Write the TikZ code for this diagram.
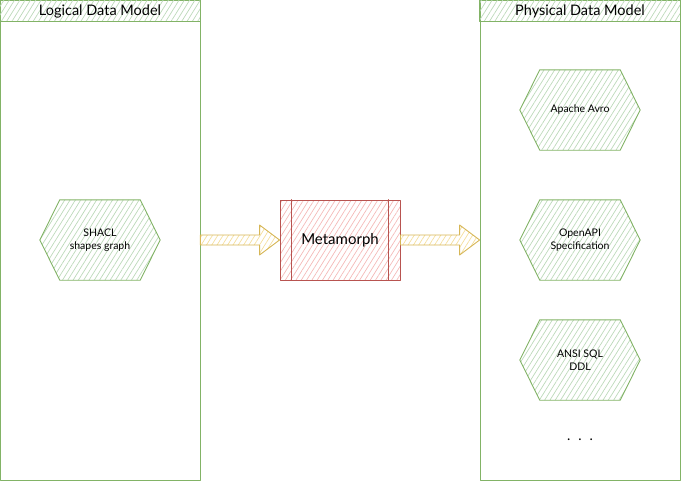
\documentclass[tikz,border=0pt]{standalone}
\usepackage{fontspec}
\setmainfont{Lato}
\usetikzlibrary{calc,patterns.meta,backgrounds}
\definecolor{grnline}{HTML}{82B366}
\definecolor{grnfill}{HTML}{BCD9B9}
\definecolor{redline}{HTML}{B85450}
\definecolor{redfill}{HTML}{F4BAB8}
\definecolor{ylwline}{HTML}{D6B656}
\definecolor{ylwfill}{HTML}{F4DE9C}
\tikzset{
	hatch/.style={pattern={Lines[angle=58,distance=4.5pt,line width=0.7pt]}, pattern color=#1},
	lane/.style={draw=grnline, line width=0.8pt, minimum width=200pt, minimum height=480pt, inner sep=0pt},
	hexbox/.style={minimum width=120pt, minimum height=80pt, inner sep=0pt, align=center,
		font=\fontsize{10.5}{12.5}\selectfont},
	procbox/.style={draw=redline, line width=0.9pt, hatch=redfill, minimum width=120pt, minimum height=80pt,
		inner sep=0pt, font=\fontsize{15}{17}\selectfont}
}
\newcommand{\fatarrow}[2]{%
	\draw[ylwline, line width=0.9pt, hatch=ylwfill] ($(#1)+(0,-5)$) -- ($(#2)+(-20,-5)$) -- ($(#2)+(-20,-15)$)
	-- (#2) -- ($(#2)+(-20,15)$) -- ($(#2)+(-20,5)$) -- ($(#1)+(0,5)$) -- cycle;}
\begin{document}
\begin{tikzpicture}[x=1pt, y=-1pt, line join=round, line cap=round, font=\fontsize{10.5}{12.5}\selectfont]
	\useasboundingbox (0,0) rectangle (682,482);
	% two lanes with their headers
	\node[lane] (logical) at (100,240) {};
	\node[lane] (physical) at (580,240) {};
	\foreach \n/\t in {logical/Logical Data Model, physical/Physical Data Model}{
		\draw[grnline, line width=0.8pt, hatch=grnfill] (\n.north west) rectangle ($(\n.north east)+(0,22)$);
		\node[font=\fontsize{14.5}{16}\selectfont] (\n-title) at ($(\n.north)+(0,11.5)$) {\t};}
	% hexagons
	\node[hexbox] (shacl) at (100,240) {SHACL\\shapes graph};
	\node[hexbox] (avro) at (580,110) {Apache Avro};
	\node[hexbox] (openapi) at (580,240) {OpenAPI\\Specification};
	\node[hexbox] (sql) at (580,360) {ANSI SQL\\DDL};
	\node[font=\fontsize{14}{16}\selectfont] (more) at (580,440) {.\hspace{8pt}.\hspace{8pt}.};
	\begin{scope}[on background layer]
		\foreach \n in {shacl,avro,openapi,sql}{
			\draw[grnline, line width=0.9pt, hatch=grnfill] (\n.west) -- ($(\n.north west)+(20,0)$)
			-- ($(\n.north east)+(-20,0)$) -- (\n.east) -- ($(\n.south east)+(-20,0)$)
			-- ($(\n.south west)+(20,0)$) -- cycle;}
	\end{scope}
	% the process box
	\node[procbox] (meta) at (340,240) {Metamorph};
	\draw[redline, line width=0.9pt] ($(meta.north west)+(12,0)$) -- ($(meta.south west)+(12,0)$);
	\draw[redline, line width=0.9pt] ($(meta.north east)+(-12,0)$) -- ($(meta.south east)+(-12,0)$);
	\fatarrow{logical.east}{meta.west}
	\fatarrow{meta.east}{physical.west}
\end{tikzpicture}
\end{document}
